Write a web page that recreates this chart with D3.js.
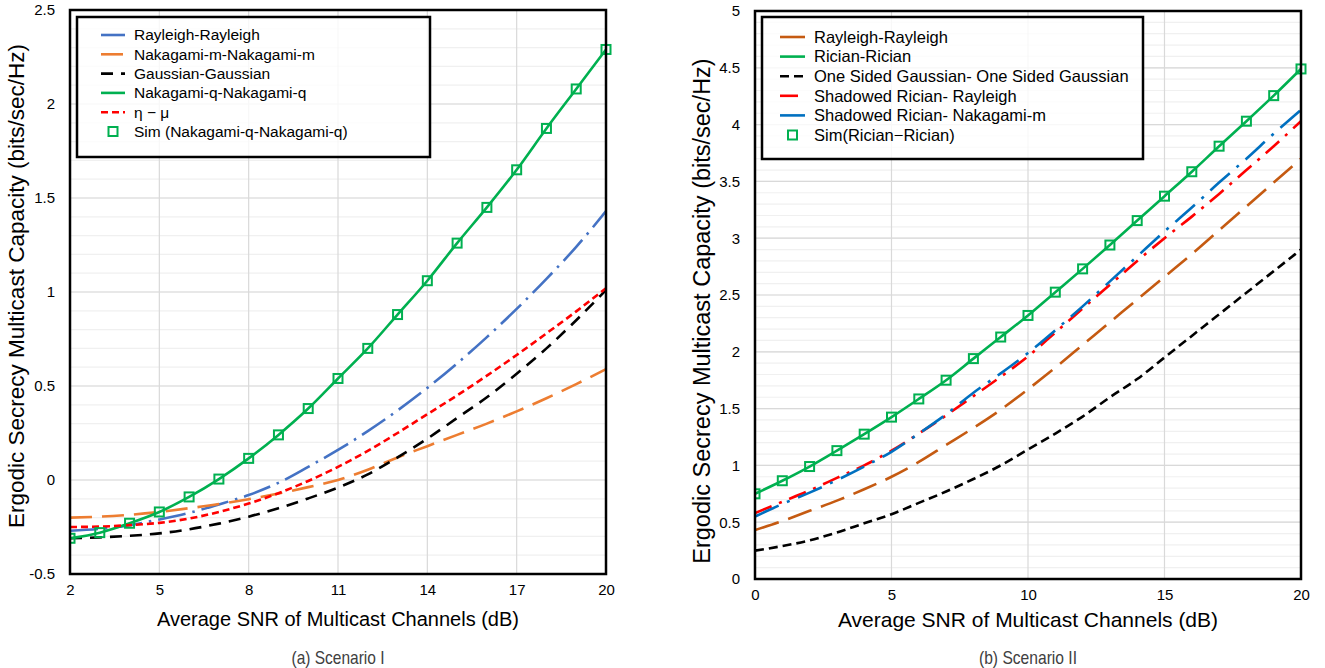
<!DOCTYPE html>
<html><head><meta charset="utf-8">
<script src="https://cdn.jsdelivr.net/npm/d3@7"></script>
<style>
body{margin:0;background:#fff;}
text{font-family:"Liberation Sans",Arial,sans-serif;fill:#000;}
</style>
</head><body>
<svg id="c" width="1325" height="668"></svg>
<script>
// ---------- Panel (a) data ----------
const snrA = [2,3,4,5,6,7,8,9,10,11,12,13,14,15,16,17,18,19,20];
const rayleighA = [-0.27,-0.26,-0.24,-0.21,-0.175,-0.13,-0.08,-0.015,0.07,0.16,0.26,0.37,0.49,0.62,0.76,0.91,1.07,1.24,1.43];
const nakagamiMA = [-0.2,-0.195,-0.185,-0.17,-0.15,-0.128,-0.102,-0.072,-0.038,0.0,0.055,0.12,0.18,0.24,0.30,0.365,0.435,0.51,0.59];
const gaussianA = [-0.31,-0.305,-0.297,-0.284,-0.262,-0.232,-0.195,-0.15,-0.098,-0.04,0.03,0.12,0.22,0.33,0.44,0.565,0.70,0.85,1.01];
const nakagamiQA = [-0.31,-0.28,-0.23,-0.17,-0.09,0.005,0.115,0.24,0.38,0.54,0.70,0.88,1.06,1.26,1.45,1.65,1.87,2.08,2.29];
const etaMuA = [-0.25,-0.248,-0.24,-0.228,-0.205,-0.17,-0.125,-0.07,-0.005,0.07,0.155,0.25,0.35,0.45,0.555,0.665,0.78,0.897,1.02];
const simA = [-0.31,-0.28,-0.23,-0.17,-0.09,0.005,0.115,0.24,0.38,0.54,0.70,0.88,1.06,1.26,1.45,1.65,1.87,2.08,2.29];
const xTicksA = [2,5,8,11,14,17,20];
const yTicksA = [-0.5,0,0.5,1,1.5,2,2.5];
const namesA = ["Rayleigh-Rayleigh","Nakagami-m-Nakagami-m","Gaussian-Gaussian","Nakagami-q-Nakagami-q","\u03b7 \u2212 \u03bc","Sim (Nakagami-q-Nakagami-q)"];

// ---------- Panel (b) data ----------
const snrB = [0,1,2,3,4,5,6,7,8,9,10,11,12,13,14,15,16,17,18,19,20];
const rayleighB = [0.43,0.51,0.6,0.69,0.79,0.9,1.03,1.18,1.33,1.49,1.67,1.86,2.06,2.26,2.46,2.66,2.86,3.07,3.28,3.49,3.7];
const ricianB = [0.75,0.865,0.99,1.13,1.275,1.425,1.585,1.75,1.94,2.13,2.32,2.525,2.73,2.94,3.155,3.37,3.585,3.81,4.03,4.255,4.49];
const oneSidedB = [0.25,0.29,0.34,0.41,0.49,0.57,0.67,0.77,0.88,1.0,1.14,1.28,1.43,1.6,1.76,1.95,2.14,2.33,2.52,2.71,2.9];
const shRayleighB = [0.58,0.68,0.78,0.89,1.0,1.13,1.28,1.44,1.61,1.78,1.96,2.17,2.38,2.59,2.8,3.0,3.19,3.39,3.6,3.81,4.03];
const shNakagamiB = [0.55,0.66,0.76,0.87,0.99,1.12,1.28,1.45,1.64,1.81,1.99,2.19,2.4,2.62,2.84,3.06,3.27,3.49,3.7,3.92,4.13];
const simB = [0.75,0.865,0.99,1.13,1.275,1.425,1.585,1.75,1.94,2.13,2.32,2.525,2.73,2.94,3.155,3.37,3.585,3.81,4.03,4.255,4.49];
const xTicksB = [0,5,10,15,20];
const yTicksB = [0,0.5,1,1.5,2,2.5,3,3.5,4,4.5,5];
const namesB = ["Rayleigh-Rayleigh","Rician-Rician","One Sided Gaussian- One Sided Gaussian","Shadowed Rician- Rayleigh","Shadowed Rician- Nakagami-m","Sim(Rician\u2212Rician)"];

const yTitle = "Ergodic Secrecy Multicast Capacity (bits/sec/Hz)";
const xTitle = "Average SNR of Multicast Channels (dB)";

const svg = d3.select("#c");
svg.append("rect").attr("width",1325).attr("height",668).attr("fill","#fff");

function panel(p){
  const g = svg.append("g");
  const x = d3.scaleLinear().domain(p.xDomain).range([p.left,p.right]);
  const y = d3.scaleLinear().domain(p.yDomain).range([p.bottom,p.top]);
  const id = "clip"+p.key;
  svg.append("clipPath").attr("id",id).append("rect")
    .attr("x",p.left).attr("y",p.top-6).attr("width",p.right-p.left+8).attr("height",p.bottom-p.top+12);

  // minor horizontal grid
  const minor = d3.range(Math.round(p.yDomain[0]*10), Math.round(p.yDomain[1]*10)+1).map(v=>v/10);
  g.append("g").selectAll("line").data(minor).join("line")
    .attr("x1",p.left).attr("x2",p.right).attr("y1",d=>y(d)).attr("y2",d=>y(d))
    .attr("stroke","#f0f0f0").attr("stroke-width",1.2);
  // major grid
  g.append("g").selectAll("line").data(p.yTicks).join("line")
    .attr("x1",p.left).attr("x2",p.right).attr("y1",d=>y(d)).attr("y2",d=>y(d))
    .attr("stroke","#d9d9d9").attr("stroke-width",1.2);
  g.append("g").selectAll("line").data(p.xTicks).join("line")
    .attr("x1",d=>x(d)).attr("x2",d=>x(d)).attr("y1",p.top).attr("y2",p.bottom)
    .attr("stroke","#d9d9d9").attr("stroke-width",1.2);

  // series
  const line = d3.line().x(d=>x(d[0])).y(d=>y(d[1])).curve(d3.curveMonotoneX);
  const lg = g.append("g").attr("clip-path",`url(#${id})`);
  p.series.forEach(s=>{
    if(s.type==="line"){
      lg.append("path").datum(p.xs.map((v,i)=>[v,s.values[i]]))
        .attr("d",line).attr("fill","none").attr("stroke",s.color)
        .attr("stroke-width",s.width||2.6).attr("stroke-dasharray",s.dash||null);
    }
  });
  p.series.forEach(s=>{
    if(s.type==="marker"){
      lg.append("g").selectAll("rect").data(p.xs.map((v,i)=>[v,s.values[i]])).join("rect")
        .attr("x",d=>x(d[0])-4.5).attr("y",d=>y(d[1])-4.5).attr("width",9).attr("height",9)
        .attr("fill","none").attr("stroke",s.color).attr("stroke-width",2);
    }
  });

  // frame
  g.append("rect").attr("x",p.left).attr("y",p.top).attr("width",p.right-p.left).attr("height",p.bottom-p.top)
    .attr("fill","none").attr("stroke","#000").attr("stroke-width",2.5);

  // axes labels
  const ax = g.append("g").attr("transform",`translate(0,${p.bottom+7})`)
    .call(d3.axisBottom(x).tickValues(p.xTicks).tickSize(0).tickFormat(d=>String(d)));
  ax.select(".domain").remove();
  ax.selectAll("text").attr("font-size",15).attr("dy","0.71em").attr("font-family","Liberation Sans, Arial, sans-serif").attr("fill","#000");
  const ay = g.append("g").attr("transform",`translate(${p.left-12},0)`)
    .call(d3.axisLeft(y).tickValues(p.yTicks).tickSize(0).tickFormat(d=>String(d)));
  ay.select(".domain").remove();
  ay.selectAll("text").attr("font-size",15).attr("font-family","Liberation Sans, Arial, sans-serif").attr("fill","#000");

  // titles
  g.append("text").attr("x",(p.left+p.right)/2).attr("y",p.xTitleY).attr("text-anchor","middle")
    .attr("font-size",p.xTitleSize).text(xTitle);
  g.append("text").attr("transform",`translate(${p.yTitleX},${p.yTitleY}) rotate(-90)`)
    .attr("text-anchor","middle").attr("font-size",p.yTitleSize).text(yTitle);
  g.append("text").attr("x",(p.left+p.right)/2).attr("y",664).attr("text-anchor","middle")
    .attr("font-size",18.5).style("fill","#404040")
    .attr("font-family","Open Sans, sans-serif")
    .attr("textLength",p.capW).attr("lengthAdjust","spacingAndGlyphs").text(p.caption);

  // legend
  const L = p.legend;
  const leg = g.append("g");
  leg.append("rect").attr("x",L.x).attr("y",L.y).attr("width",L.w).attr("height",L.h)
    .attr("fill","#fff").attr("fill-opacity",0.8).attr("stroke","#000").attr("stroke-width",2.5);
  p.series.forEach((s,i)=>{
    const ry = L.row0 + i*L.step;
    if(s.type==="line"){
      leg.append("line").attr("x1",L.sx0).attr("x2",L.sx1).attr("y1",ry).attr("y2",ry)
        .attr("stroke",s.color).attr("stroke-width",s.width||2.6).attr("stroke-dasharray",s.dash||null);
    } else {
      const cx=(L.sx0+L.sx1)/2;
      leg.append("rect").attr("x",cx-4.5).attr("y",ry-4.5).attr("width",9).attr("height",9)
        .attr("fill","none").attr("stroke",s.color).attr("stroke-width",2);
    }
    leg.append("text").attr("x",L.tx).attr("y",ry).attr("dy","0.35em").attr("font-size",L.fs).text(s.name);
  });
}

panel({
  key:"a", xDomain:[2,20], yDomain:[-0.5,2.5], left:70, right:606, top:10, bottom:574,
  xs:snrA, xTicks:xTicksA, yTicks:yTicksA,
  xTitleSize:20, xTitleY:626, yTitleSize:22.5, yTitleX:24, yTitleY:286,
  caption:"(a) Scenario I", capW:93,
  series:[
    {type:"line",name:namesA[0],values:rayleighA,color:"#4472C4",dash:"28,7,2.5,7"},
    {type:"line",name:namesA[1],values:nakagamiMA,color:"#ED7D31",dash:"22,10"},
    {type:"line",name:namesA[2],values:gaussianA,color:"#000000",dash:"12,8"},
    {type:"line",name:namesA[3],values:nakagamiQA,color:"#00B050"},
    {type:"line",name:namesA[4],values:etaMuA,color:"#FF0000",dash:"7,4"},
    {type:"marker",name:namesA[5],values:simA,color:"#00B050"}
  ],
  legend:{x:77,y:17,w:353,h:140,row0:35,step:19.3,sx0:101,sx1:125,tx:134,fs:15.5}
});

panel({
  key:"b", xDomain:[0,20], yDomain:[0,5], left:755, right:1301, top:11, bottom:579,
  xs:snrB, xTicks:xTicksB, yTicks:yTicksB,
  xTitleSize:21, xTitleY:627, yTitleSize:23.5, yTitleX:710, yTitleY:311,
  caption:"(b) Scenario II", capW:98,
  series:[
    {type:"line",name:namesB[0],values:rayleighB,color:"#C55A11",dash:"25,10"},
    {type:"line",name:namesB[1],values:ricianB,color:"#00B050"},
    {type:"line",name:namesB[2],values:oneSidedB,color:"#000000",dash:"9,5"},
    {type:"line",name:namesB[3],values:shRayleighB,color:"#FF0000",dash:"18,8,3,8"},
    {type:"line",name:namesB[4],values:shNakagamiB,color:"#0070C0",dash:"26,9,3,9"},
    {type:"marker",name:namesB[5],values:simB,color:"#00B050"}
  ],
  legend:{x:762,y:17,w:381,h:142,row0:37,step:19.6,sx0:780,sx1:805,tx:814,fs:16.5}
});
</script>
</body></html>
